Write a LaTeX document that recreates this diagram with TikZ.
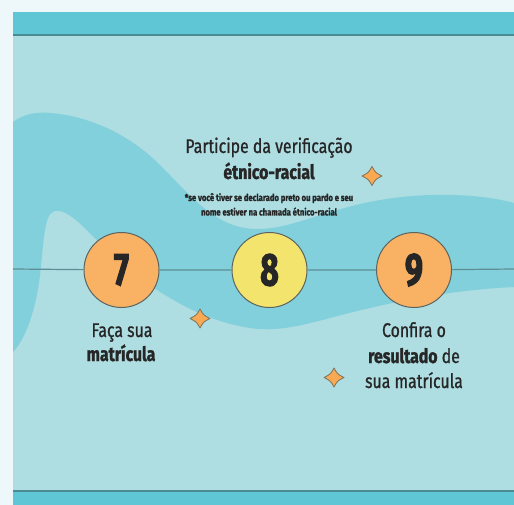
\documentclass[tikz,border=0pt]{standalone}
\usepackage{fontspec}
\newfontfamily\cf[FakeStretch=0.8, FakeBold=0.9, BoldFeatures={FakeBold=1.3}]{Fira Sans}
\newfontfamily\nf[FakeStretch=0.7, BoldFeatures={FakeBold=2}]{Fira Sans}
\definecolor{outerbg}{HTML}{EEF7F9}
\definecolor{band}{HTML}{5EC6D4}
\definecolor{panel}{HTML}{AEDDE2}
\definecolor{wavec}{HTML}{82D0DC}
\definecolor{edge}{HTML}{4A8C92}
\definecolor{tlc}{HTML}{5E8E94}
\definecolor{orangec}{HTML}{F9B264}
\definecolor{yellowc}{HTML}{F3E46E}
\definecolor{ring}{HTML}{5C6462}
\definecolor{ink}{HTML}{262626}
\definecolor{sparkc}{HTML}{F9A952}
\tikzset{
  stepcirc/.style={circle, draw=ring, line width=1pt, minimum size=75pt, inner sep=0pt,
    text=ink, font=\nf\bfseries\fontsize{46}{46}\selectfont},
  txt/.style={text=ink, inner sep=0pt, anchor=base, font=\cf\fontsize{19.8}{21}\selectfont},
  note/.style={text=ink, inner sep=0pt, anchor=base, font=\cf\bfseries\fontsize{9.6}{10}\selectfont},
  timeline/.style={draw=tlc, line width=1.2pt},
  sparkle/.pic={
    \draw[fill=sparkc, draw=ring!80!sparkc, line width=0.8pt, line join=round]
      (0,-9.5) .. controls (3.4,-3.4) .. (10,0) .. controls (3.4,3.4) .. (0,9.5)
      .. controls (-3.4,3.4) .. (-10,0) .. controls (-3.4,-3.4) .. cycle;
  }
}
\begin{document}
\begin{tikzpicture}[x=1pt,y=-1pt]
\useasboundingbox (0,0) rectangle (514,505);
\fill[outerbg] (0,0) rectangle (514,505);
\fill[panel] (13,12) rectangle (514,505);
% wave
\begin{scope}
\clip (13,36) rectangle (514,491);
\fill[wavec] (13,122) .. controls (25,113) and (38,112) .. (50,113)
  .. controls (90,116) and (130,135) .. (160,165)
  .. controls (190,195) and (215,228) .. (255,229)
  .. controls (300,230) and (340,198) .. (430,195)
  .. controls (470,194) and (495,198) .. (514,203)
  -- (514,287)
  .. controls (450,290) and (390,302) .. (330,318)
  .. controls (300,326) and (275,332) .. (250,328)
  .. controls (200,320) and (160,295) .. (120,262)
  .. controls (95,242) and (72,208) .. (55,211)
  .. controls (44,213) and (44,240) .. (40,275)
  .. controls (36,310) and (25,340) .. (13,352) -- cycle;
\end{scope}
% bands
\fill[band] (13,12) rectangle (514,34.5);
\fill[edge] (13,34) rectangle (514,36);
\fill[band] (13,491.5) rectangle (514,505);
\fill[edge] (13,490.2) rectangle (514,492);
% timeline
\coordinate (tl) at (13,269);
\coordinate (tr) at (514,269);
\node[stepcirc, fill=orangec] (s7) at (121.5,270) {7};
\node[stepcirc, fill=yellowc] (s8) at (269.5,270) {8};
\node[stepcirc, fill=orangec] (s9) at (414,270) {9};
\draw[timeline] (tl) -- (s7) (s7) -- (s8) (s8) -- (s9) (s9) -- (tr);
% texts
\node[txt] (t8a) at (269,153) {Participe da verificação};
\node[txt] (t8b) at (269,179) {\bfseries étnico-racial};
\node[note] (n1) at (269,201) {*se você tiver se declarado preto ou pardo e seu};
\node[note] (n2) at (269,215.5) {nome estiver na chamada étnico-racial};
\node[txt] (t7a) at (122,337) {Faça sua};
\node[txt] (t7b) at (121,361) {\bfseries matrícula};
\node[txt] (t9a) at (414,337) {Confira o};
\node[txt] (t9b) at (414,363) {{\bfseries resultado} de};
\node[txt] (t9c) at (414,388) {sua matrícula};
% sparkles
\pic at (372,176) {sparkle};
\pic at (200,318.5) {sparkle};
\pic at (334,377.5) {sparkle};
\end{tikzpicture}
\end{document}
